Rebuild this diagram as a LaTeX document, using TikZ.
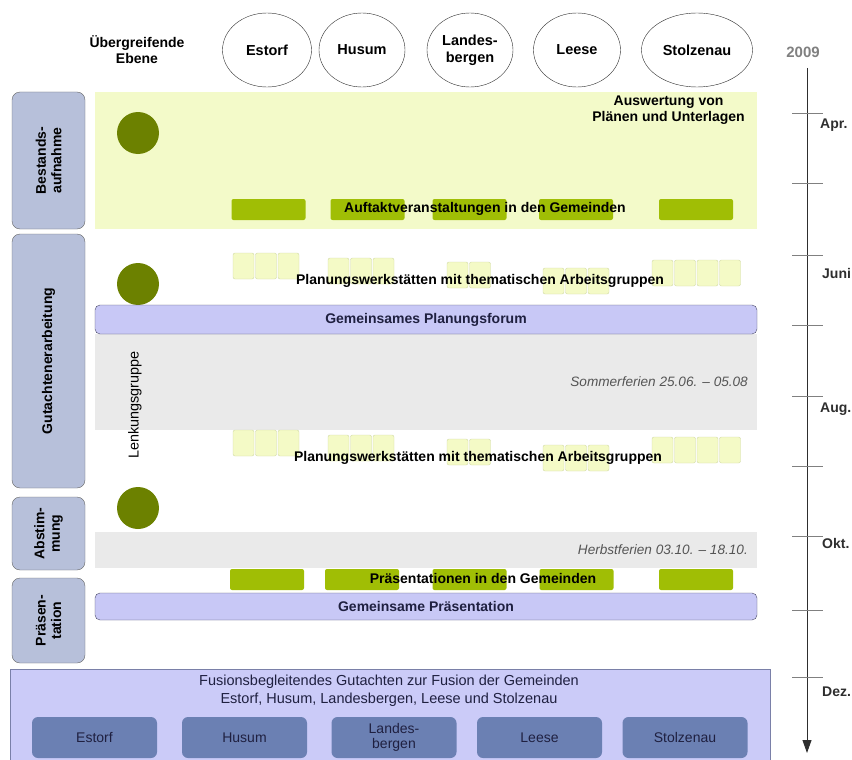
\documentclass[tikz,border=0pt]{standalone}
\usepackage{fontspec}
\setsansfont{Liberation Sans}
\usepackage{tikz}
\usetikzlibrary{shapes}
\usetikzlibrary{arrows.meta}
\usetikzlibrary{positioning}
\usepackage{xcolor}
\definecolor{darkline}{HTML}{2E2E2E}
\definecolor{phasefill}{HTML}{B7C0DA}
\definecolor{phaseline}{HTML}{666666}
\definecolor{bandyellow}{HTML}{F3FAC9}
\definecolor{bandgray}{HTML}{EAEAEA}
\definecolor{olivedot}{HTML}{6C8100}
\definecolor{eventgreen}{HTML}{A0BE05}
\definecolor{squarefill}{HTML}{F4FAC6}
\definecolor{squareline}{HTML}{D0D8A4}
\definecolor{forumfill}{HTML}{C8C8F6}
\definecolor{forumline}{HTML}{4A4A66}
\definecolor{fusionfill}{HTML}{CBCBF8}
\definecolor{fusionline}{HTML}{7A80A8}
\definecolor{steel}{HTML}{6B80B3}
\definecolor{textnavy}{HTML}{1F2040}
\definecolor{holidaytext}{HTML}{555555}
\tikzset{every node/.style={font={\sffamily\bfseries\fontsize{14}{16}\selectfont}, inner sep=0pt}, every text node part/.style={align=center}}
\tikzstyle{town} = [ellipse, draw=darkline, fill=white, minimum height=74pt, font={\sffamily\bfseries\fontsize{14.5}{17}\selectfont}]
\tikzstyle{phase} = [draw=phaseline, fill=phasefill, rounded corners=8pt, rotate=90, minimum height=73pt, font={\sffamily\bfseries\fontsize{14}{15.5}\selectfont}]
\tikzstyle{band} = [rectangle, minimum width=662pt]
\tikzstyle{event} = [rectangle, fill=eventgreen, rounded corners=2pt, minimum width=74pt, minimum height=21pt]
\tikzstyle{workshop} = [rectangle, draw=squareline, fill=squarefill, rounded corners=2pt, minimum width=21pt, minimum height=26pt]
\tikzstyle{forum} = [rectangle, draw=forumline, fill=forumfill, rounded corners=5pt, minimum width=662pt, text=textnavy]
\tikzstyle{meeting} = [circle, fill=olivedot, minimum size=42pt]
\tikzstyle{holiday} = [anchor=east, text=holidaytext, font={\sffamily\itshape\fontsize{13.6}{16}\selectfont}]
\tikzstyle{gemeinde} = [rectangle, fill=steel, rounded corners=6pt, minimum width=125pt, minimum height=41pt, font={\sffamily\fontsize{14}{15.5}\selectfont}, text=textnavy]
\tikzstyle{month} = [anchor=west, text=darkline, font={\sffamily\bfseries\fontsize{14}{16}\selectfont}]

\begin{document}
\begin{tikzpicture}[x=1pt, y=-1pt,
    timeline/.style={draw=darkline, line width=0.9pt, -{Triangle[width=9pt, length=13pt]}},
    tick/.style={draw=gray, line width=0.9pt}
  ]
  \useasboundingbox (0,0) rectangle (852,760);

  % Define header
  \node (ebene) at (137,50) {Übergreifende\\Ebene};
  \node[town, minimum width=89pt] (estorf) at (267,50) {Estorf};
  \node[town, minimum width=86pt] (husum) at (362,50) {Husum};
  \node[town, minimum width=86pt] (landesbergen) at (470,50) {Landes-\\bergen};
  \node[town, minimum width=87pt] (leese) at (577,50) {Leese};
  \node[town, minimum width=111pt] (stolzenau) at (697,50) {Stolzenau};

  % Define background bands
  \node[band, fill=bandyellow, minimum height=137pt] (bestand) at (426,160.5) {};
  \node[band, fill=bandgray, minimum height=96pt] (sommer) at (426,382) {};
  \node[band, fill=bandgray, minimum height=36pt] (herbst) at (426,550) {};

  % Define phases
  \node[phase, minimum width=137pt] (phase1) at (48.5,160.5) {Bestands-\\aufnahme};
  \node[phase, minimum width=254pt] (phase2) at (48.5,361) {Gutachtenerarbeitung};
  \node[phase, minimum width=73pt] (phase3) at (48.5,533.5) {Abstim-\\mung};
  \node[phase, minimum width=85pt] (phase4) at (48.5,620.5) {Präsen-\\tation};

  % Define Lenkungsgruppe meetings
  \node[meeting] (meet1) at (138,133) {};
  \node[meeting] (meet2) at (138,284) {};
  \node[meeting] (meet3) at (138,508) {};
  \node[rotate=90, font={\sffamily\fontsize{14.4}{16}\selectfont}] (lenkung) at (135,405) {Lenkungsgruppe};

  \node[anchor=north east] (auswertung) at (745,96) {Auswertung von\\Plänen und Unterlagen};

  % Define events in the Gemeinden
  \foreach \ex/\ey [count=\i] in {268.5/209.5, 367.5/209.5, 469.5/209.5, 576/209.5, 696/209.5} {
    \node[event] (kickoff\i) at (\ex,\ey) {};
  }
  \node (kickoff) at (485,209) {Auftaktveranstaltungen in den Gemeinden};
  \foreach \ex/\ey [count=\i] in {267/579.5, 362/579.5, 469.5/579.5, 576.5/579.5, 696/579.5} {
    \node[event] (present\i) at (\ex,\ey) {};
  }
  \node (present) at (483,578) {Präsentationen in den Gemeinden};

  % Define workshops
  \foreach \gx/\gy/\n [count=\g] in {233/253/3, 328/258/3, 447/262/2, 543/268/3, 652/260/4} {
    \foreach \k in {1,...,\n} {
      \node[workshop] (wsA-\g-\k) at ({\gx+10.5+(\k-1)*22.5}, {\gy+13}) {};
      \node[workshop] (wsB-\g-\k) at ({\gx+10.5+(\k-1)*22.5}, {\gy+13+177}) {};
    }
  }
  \node (werkstattA) at (480,281) {Planungswerkstätten mit thematischen Arbeitsgruppen};
  \node (werkstattB) at (478,458) {Planungswerkstätten mit thematischen Arbeitsgruppen};

  % Define forum bars
  \node[forum, minimum height=29pt] (forum) at (426,319.5) {};
  \node[text=textnavy] at (forum.center) {Gemeinsames Planungsforum};
  \node[forum, minimum height=27pt] (praesentation) at (426,606.5) {};
  \node[text=textnavy] at (praesentation.center) {Gemeinsame Präsentation};

  % Define holidays
  \node[holiday] (sommerlabel) at (748,382) {Sommerferien 25.06. – 05.08};
  \node[holiday] (herbstlabel) at (748,550) {Herbstferien 03.10. – 18.10.};

  % Define Gutachten
  \node[rectangle, draw=fusionline, fill=fusionfill, line width=0.9pt, minimum width=760pt, minimum height=95pt] (fusion) at (390,716.5) {};
  \node[font={\sffamily\fontsize{14.5}{17.5}\selectfont}, text=textnavy] (fusiontitle) at (389,690.5) {Fusionsbegleitendes Gutachten zur Fusion der Gemeinden\\Estorf, Husum, Landesbergen, Leese und Stolzenau};
  \node[gemeinde] (g-estorf) at (94.5,737.5) {Estorf};
  \node[gemeinde] (g-husum) at (244.5,737.5) {Husum};
  \node[gemeinde] (g-landesbergen) at (394,737.5) {Landes-\\bergen};
  \node[gemeinde] (g-leese) at (539.5,737.5) {Leese};
  \node[gemeinde] (g-stolzenau) at (685,737.5) {Stolzenau};

  % Define timeline
  \node[text=gray, font={\sffamily\bfseries\fontsize{15}{17}\selectfont}] (year) at (803,52) {2009};
  \coordinate (tl-start) at (807,68);
  \coordinate (tl-end) at (807,753);
  \draw[timeline] (tl-start) -- (tl-end);
  \foreach \ty [count=\i] in {113,183,255,325,396,466,536,610,677} {
    \coordinate (tick\i) at (807,\ty);
    \draw[tick] ([xshift=-15pt]tick\i) -- ([xshift=16pt]tick\i);
  }
  \node[month] (apr) at (820,125) {Apr.};
  \node[month] (juni) at (822,273) {Juni};
  \node[month] (aug) at (820,409) {Aug.};
  \node[month] (okt) at (822,543) {Okt.};
  \node[month] (dez) at (822,692) {Dez.};

\end{tikzpicture}
\end{document}
